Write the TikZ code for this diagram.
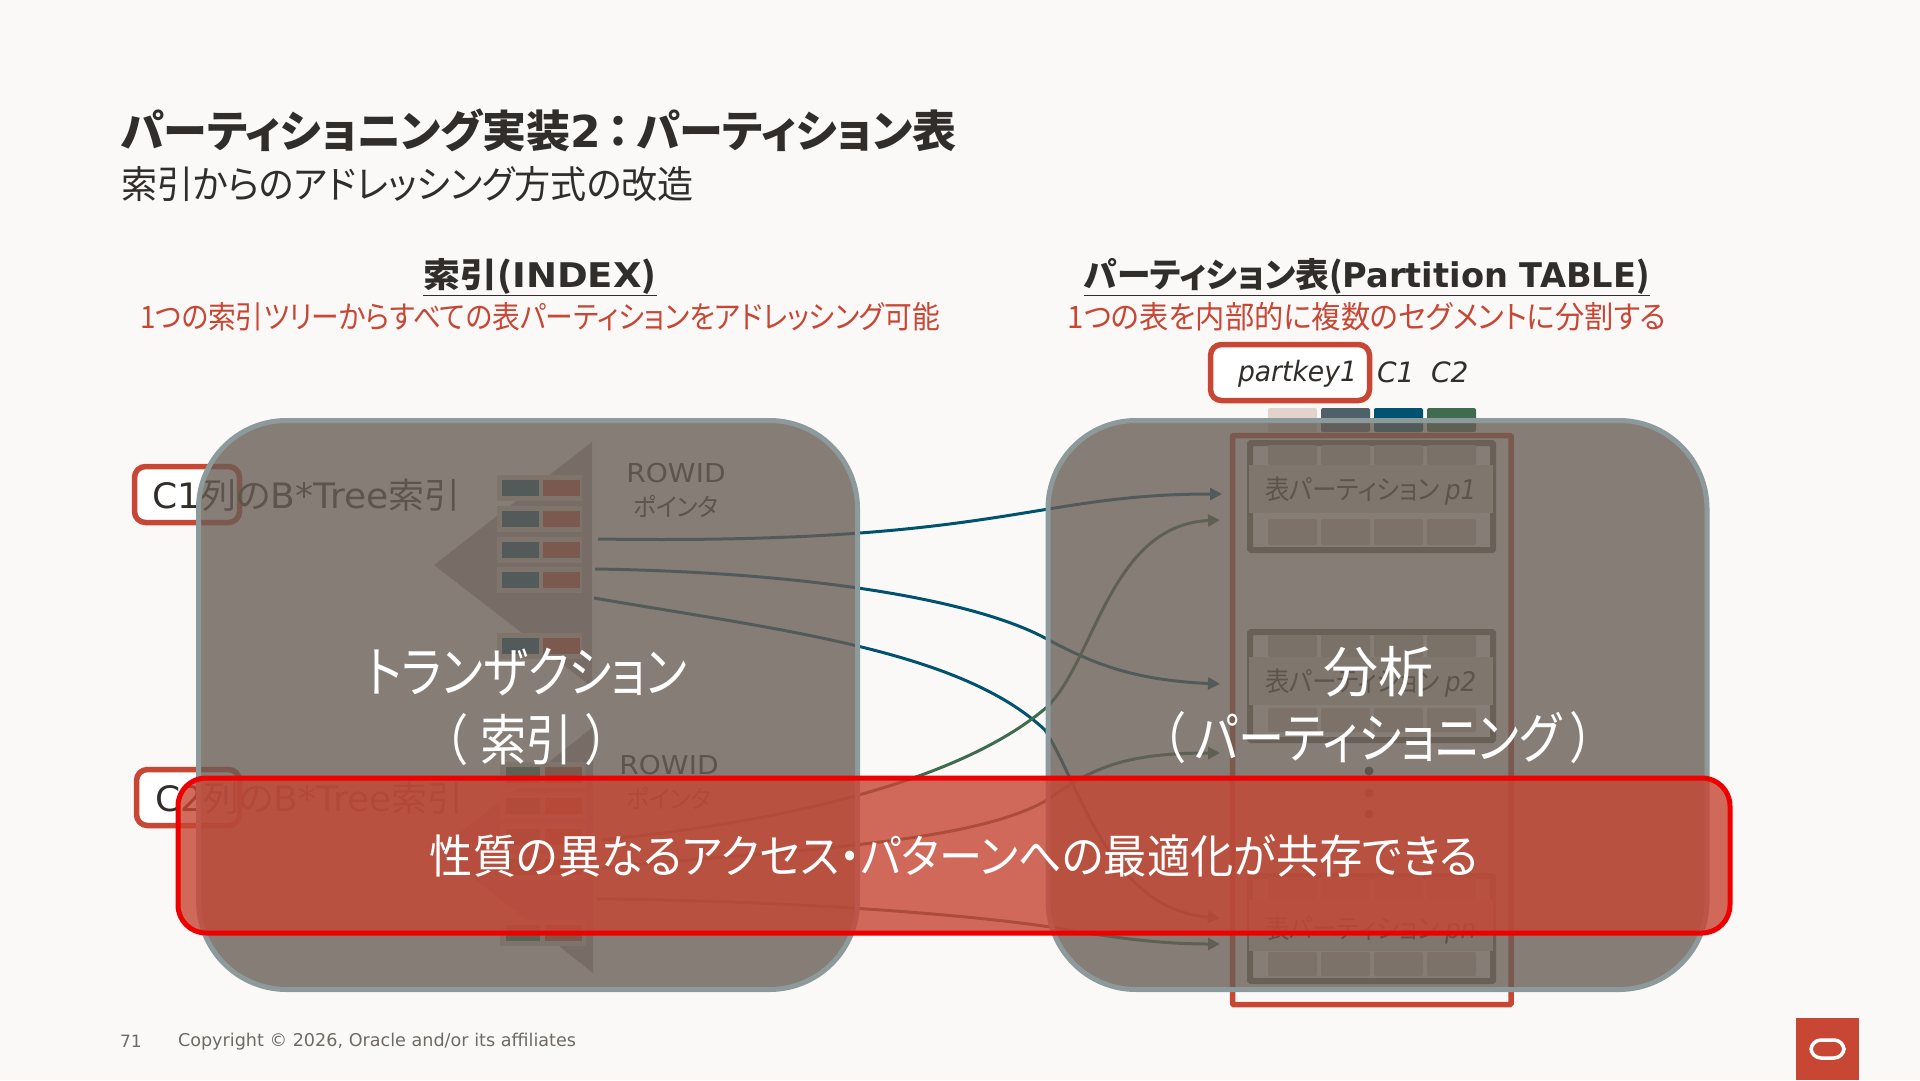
\documentclass[tikz,border=0pt]{standalone}
\usepackage{graphicx}
\usepackage{fontspec}
\setmainfont{DejaVu Sans}
\newfontfamily\ja[RawFeature=+palt]{Noto Sans CJK JP}
\newfontfamily\lat{DejaVu Sans}
\usetikzlibrary{arrows.meta}
\definecolor{pagebg}{HTML}{FBF9F8}
\definecolor{ink}{HTML}{312D2A}
\definecolor{ored}{HTML}{C74634}
\definecolor{teal}{HTML}{00536E}
\definecolor{forest}{HTML}{3F6B4F}
\definecolor{slate}{HTML}{4F6068}
\definecolor{veil}{HTML}{685E56}
\definecolor{veilline}{HTML}{8C9A9B}
\definecolor{frameg}{HTML}{6F6A64}
\definecolor{treeg}{HTML}{B5ADA6}
\definecolor{rowg}{HTML}{DCD0C4}
\definecolor{bandg}{HTML}{DCD6D0}
\definecolor{cellg}{HTML}{CCC5BE}
\definecolor{topg}{HTML}{C6BFB8}
\definecolor{pink}{HTML}{E2D4CC}
\definecolor{alarm}{HTML}{EE0000}
\newcommand{\fsz}[1]{\fontsize{#1}{#1}\selectfont}
\newcommand{\sx}[2]{\scalebox{#1}[1]{#2}}
\tikzset{
  txt/.style={inner sep=0pt,outer sep=0pt,text=ink},
  keybox/.style={draw=ored,line width=5.5pt,rounded corners=11pt,fill=white,inner sep=0pt},
  link/.style={line width=3pt,-{Triangle[length=12pt,width=12pt]}},
  veilpanel/.style={draw=veilline,line width=5pt,fill=veil,fill opacity=.8,draw opacity=1,text opacity=1,rounded corners=88pt,inner sep=0pt},
  bigtxt/.style={txt,text=white},
}
\begin{document}
\begin{tikzpicture}[x=1pt,y=-1pt]
\useasboundingbox (0,0) rectangle (1920,1080);
\fill[pagebg] (0,0) rectangle (1920,1080);
% titles
\node[txt,anchor=west] (title) at (121,130) {\ja\bfseries\fsz{44}パーティショニング実装{\lat\bfseries 2}\hspace{7pt}：\hspace{7pt}パーティション表};
\node[txt,anchor=west] (subtitle) at (121,184) {\ja\fsz{38}\sx{.95}{索引からのアドレッシング方式の改造}};
\node[txt] (hl) at (540,277) {\ja\bfseries\fsz{34}\underline{\sx{1.09}{索引({\lat INDEX})}}};
\node[txt] (hr) at (1367,277) {\ja\bfseries\fsz{34}\underline{\sx{.99}{パーティション表({\lat Partition TABLE})}}};
\node[txt,text=ored] (sl) at (540,317) {\ja\fsz{31}\sx{.895}{1つの索引ツリーからすべての表パーティションをアドレッシング可能}};
\node[txt,text=ored] (sr) at (1367,317) {\ja\fsz{31}\sx{.944}{1つの表を内部的に複数のセグメントに分割する}};
% key boxes
\node[keybox,minimum width=105pt,minimum height=56pt] (k1) at (187,494.5) {};
\node[keybox,minimum width=103pt,minimum height=56pt] (k2) at (188,797.5) {};
\node[keybox,minimum width=159pt,minimum height=56pt] (kp) at (1290,372.5) {};
\node[txt,anchor=west] (t1) at (152,495) {\fsz{35}\sx{1.03}{\lat C1\ja 列の\lat B*Tree\ja 索引}};
\node[txt,anchor=west] (t2) at (155,798) {\fsz{35}\sx{1.03}{\lat C2\ja 列の\lat B*Tree\ja 索引}};
\node[txt,anchor=west] (tp) at (1238,374) {\lat\itshape\fsz{28}\sx{.95}{partkey1}};
\node[txt,anchor=west] (tc1) at (1377,372) {\lat\itshape\fsz{28}C1};
\node[txt,anchor=west] (tc2) at (1431,372) {\lat\itshape\fsz{28}C2};
% trees
\fill[treeg] (434,565) -- (592,442) -- (592,687) -- cycle;
\fill[treeg] (438,850) -- (593,727) -- (593,973) -- cycle;
\foreach \yy in {480,511,542,572,638}{
  \fill[rowg] (497,\yy-5) rectangle (582,\yy+21);
  \fill[teal] (502,\yy) rectangle (539,\yy+16);
  \fill[ored] (543,\yy) rectangle (580,\yy+16);
}
\foreach \yy in {767,798,829,859,925}{
  \fill[rowg] (500,\yy-5) rectangle (586,\yy+21);
  \fill[forest] (506,\yy) rectangle (540,\yy+16);
  \fill[ored] (545,\yy) rectangle (582,\yy+16);
}
\node[txt] (r1a) at (676,473) {\lat\fsz{26}\sx{1.08}{ROWID}};
\node[txt] (r1b) at (676,506) {\ja\fsz{25}\sx{.95}{ポインタ}};
\node[txt] (r2a) at (669,765) {\lat\fsz{26}\sx{1.08}{ROWID}};
\node[txt] (r2b) at (669,798) {\ja\fsz{25}\sx{.95}{ポインタ}};
% table
\foreach \xa/\col in {1268/pink,1321/slate,1374/teal,1427/forest}{
  \fill[\col,rounded corners=2pt] (\xa,408) rectangle (\xa+49,432);
}
\draw[ored,line width=5.5pt,rounded corners=1pt] (1232.5,435.5) rectangle (1511,1004.5);
\foreach \top/\bot/\ca/\cb/\ba/\bb/\da/\db in {
  443/550/445/465/465/513/519/545,
  632/740/635/657/657/705/708/732,
  876/981/877/900/900/951/952/976}{
  \draw[frameg,line width=6pt,rounded corners=1pt] (1250,\top) rectangle (1493,\bot);
  \foreach \xa in {1268,1321,1374,1427}{
    \fill[topg,rounded corners=2pt] (\xa,\ca) rectangle (\xa+49,\cb);
    \fill[cellg,rounded corners=2pt] (\xa,\da) rectangle (\xa+49,\db);
  }
  \fill[bandg] (1249,\ba) rectangle (1493,\bb);
}
\node[txt,anchor=west] (p1) at (1265,491) {\ja\fsz{27}\sx{.91}{表パーティション {\lat\itshape p1}}};
\node[txt,anchor=west] (p2) at (1265,683) {\ja\fsz{27}\sx{.91}{表パーティション {\lat\itshape p2}}};
\node[txt,anchor=west] (pn) at (1265,930) {\ja\fsz{27}\sx{.91}{表パーティション {\lat\itshape pn}}};
\foreach \yy in {771,793,814}{\fill[ink] (1369,\yy) circle (4.5pt);}
% connectors
\coordinate (a1) at (598,539); \coordinate (a2) at (595,569); \coordinate (a3) at (594,598);
\coordinate (b1) at (602,840); \coordinate (b2) at (602,868); \coordinate (b3) at (597,899);
\coordinate (e1) at (1222,494); \coordinate (e2) at (1220,520); \coordinate (e3) at (1220,684);
\coordinate (e4) at (1220,753); \coordinate (e5) at (1220,918); \coordinate (e6) at (1220,944);
\draw[link,teal] (a1) .. controls (1000,545) and (1030,494) .. (e1);
\draw[link,teal] (a2) .. controls (800,572) and (970,598) .. (1045,638) .. controls (1090,662) and (1130,680) .. (e3);
\draw[link,teal] (a3) .. controls (780,630) and (960,650) .. (1045,730) .. controls (1080,785) and (1110,910) .. (e5);
\draw[link,forest] (b1) .. controls (750,825) and (950,790) .. (1047,707) .. controls (1095,660) and (1110,525) .. (e2);
\draw[link,forest] (b2) .. controls (780,850) and (970,845) .. (1047,800) .. controls (1090,770) and (1120,753) .. (e4);
\draw[link,forest] (b3) .. controls (760,900) and (950,912) .. (1050,927) .. controls (1100,935) and (1150,944) .. (e6);
% veil panels
\node[veilpanel,minimum width=659pt,minimum height=569pt] (pl) at (528,705) {};
\node[veilpanel,minimum width=659pt,minimum height=569pt] (pr) at (1377.5,705) {};
\node[bigtxt] (bl1) at (527,672) {\ja\fsz{55}\sx{.84}{トランザクション}};
\node[bigtxt] (bl2) at (527,740) {\ja\fsz{55}\sx{.84}{（\hspace{16pt}索引\hspace{16pt}）}};
\node[bigtxt] (br1) at (1378,672) {\ja\fsz{55}分析};
\node[bigtxt] (br2) at (1378,738) {\ja\fsz{55}\sx{.84}{（\hspace{12pt}パーティショニング\hspace{12pt}）}};
% red band
\node[draw=alarm,line width=5pt,fill=ored,fill opacity=.8,draw opacity=1,text opacity=1,text=white,rounded corners=28pt,minimum width=1552pt,minimum height=155pt,inner sep=0pt] (band) at (954,855.5) {\ja\fsz{46}\sx{.94}{性質の異なるアクセス・パターンへの最適化が共存できる}};
% footer
\node[txt,text=frameg,anchor=west] (pg) at (120,1041.5) {\lat\fsz{17}71};
\node[txt,text=frameg,anchor=west] (cr) at (178,1042) {\lat\fsz{17.6}Copyright © 2026, Oracle and/or its affiliates};
\fill[ored] (1796,1018) rectangle (1859,1080);
\draw[white,line width=3.5pt,rounded corners=10pt] (1811,1040) rectangle (1844,1058);
\end{tikzpicture}
\end{document}
